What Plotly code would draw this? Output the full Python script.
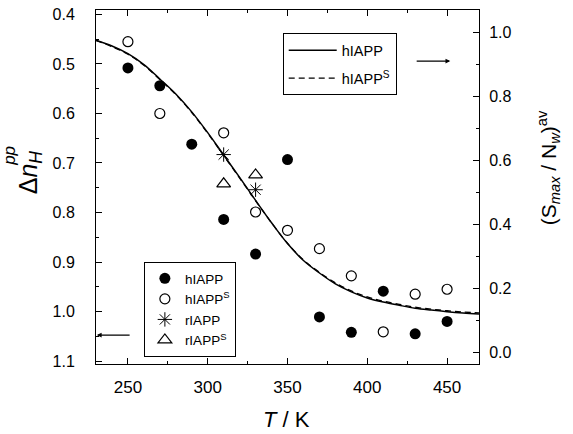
import plotly.graph_objects as go

# Temperatures (K) and measured values (left axis, reversed)
T_h = [250, 270, 290, 310, 330, 350, 370, 390, 410, 430, 450]
dn_h = [0.508, 0.544, 0.662, 0.814, 0.884, 0.693, 1.011, 1.042, 0.959, 1.045, 1.020]

T_hs = [250, 270, 310, 330, 350, 370, 390, 410, 430, 450]
dn_hs = [0.455, 0.600, 0.639, 0.799, 0.836, 0.873, 0.928, 1.041, 0.965, 0.955]

T_r = [310, 330]
dn_r = [0.683, 0.754]

T_rs = [310, 330]
dn_rs = [0.742, 0.724]

# Fitted curves (right axis)
T_fit = [230, 240, 250, 260, 270, 280, 290, 300, 310, 320, 330, 340, 350,
         360, 370, 380, 390, 400, 410, 420, 430, 440, 450, 460, 470]
s_fit = [0.976, 0.958, 0.934, 0.900, 0.855, 0.808, 0.752, 0.687, 0.617, 0.547,
         0.475, 0.405, 0.340, 0.287, 0.248, 0.214, 0.189, 0.170, 0.157, 0.147,
         0.138, 0.132, 0.127, 0.123, 0.120]
s_fit_s = [0.975, 0.956, 0.932, 0.898, 0.853, 0.806, 0.750, 0.685, 0.615, 0.545,
           0.474, 0.405, 0.341, 0.289, 0.250, 0.217, 0.192, 0.173, 0.160, 0.150,
           0.141, 0.135, 0.130, 0.126, 0.123]

FONT = "Liberation Sans, Arial, sans-serif"

fig = go.Figure()

fig.add_trace(go.Scatter(x=T_fit, y=s_fit, yaxis="y2", mode="lines",
                         line=dict(color="black", width=1.5, shape="spline"),
                         name="hIAPP", legend="legend2", legendgroup="fit1"))
fig.add_trace(go.Scatter(x=T_fit, y=s_fit_s, yaxis="y2", mode="lines",
                         line=dict(color="black", width=1.3, dash="6px,4px", shape="spline"),
                         name="hIAPP<sup>S</sup>", legend="legend2", legendgroup="fit2"))

fig.add_trace(go.Scatter(x=T_h, y=dn_h, mode="markers", name="hIAPP",
                         marker=dict(symbol="circle", size=11, color="black",
                                     line=dict(width=0))))
fig.add_trace(go.Scatter(x=T_hs, y=dn_hs, mode="markers", name="hIAPP<sup>S</sup>",
                         marker=dict(symbol="circle-open", size=10, color="black",
                                     line=dict(width=1.2))))
fig.add_trace(go.Scatter(x=T_r, y=dn_r, mode="markers", name="rIAPP",
                         marker=dict(symbol="asterisk-open", size=12, color="black",
                                     line=dict(width=1, color="black"))))
fig.add_trace(go.Scatter(x=T_rs, y=dn_rs, mode="markers", name="rIAPP<sup>S</sup>",
                         marker=dict(symbol="triangle-up-open", size=12, color="black",
                                     line=dict(width=1.2))))

axis_common = dict(showline=True, linecolor="black", linewidth=1, ticks="inside",
                   ticklen=6, tickcolor="black", tickwidth=1, showgrid=False,
                   zeroline=False, automargin=False)

fig.update_layout(
    width=573, height=434,
    margin=dict(l=96, r=94, t=10, b=70),
    plot_bgcolor="white", paper_bgcolor="white",
    font=dict(family=FONT, color="black"),
    showlegend=True,
    xaxis=dict(range=[230, 470], tickvals=[250, 300, 350, 400, 450], mirror="ticks",
               minor=dict(dtick=25, tick0=225, ticks="inside", ticklen=3, tickcolor="black"),
               tickfont=dict(family=FONT, size=17, color="black"),
               ticklabelstandoff=8,
               **axis_common),
    yaxis=dict(range=[1.106, 0.391], tickvals=[0.4, 0.5, 0.6, 0.7, 0.8, 0.9, 1.0, 1.1],
               tickformat=".1f",
               minor=dict(dtick=0.05, tick0=0.0, ticks="inside", ticklen=3, tickcolor="black"),
               tickfont=dict(family=FONT, size=16, color="black"),
               ticklabelstandoff=17,
               **axis_common),
    yaxis2=dict(range=[-0.0366, 1.0706], overlaying="y", side="right",
                tickvals=[0.0, 0.2, 0.4, 0.6, 0.8, 1.0], tickformat=".1f",
                minor=dict(dtick=0.1, tick0=0.0, ticks="inside", ticklen=3, tickcolor="black"),
                tickfont=dict(family=FONT, size=16, color="black"),
                ticklabelstandoff=6,
                **axis_common),
    legend=dict(x=0.125, y=0.288, xanchor="left", yanchor="top",
                bordercolor="black", borderwidth=1, bgcolor="white",
                font=dict(family=FONT, size=13.5), tracegroupgap=0),
    legend2=dict(x=0.4875, y=0.934, xanchor="left", yanchor="top",
                 bordercolor="black", borderwidth=1, bgcolor="white",
                 itemwidth=48, tracegroupgap=6,
                 font=dict(family=FONT, size=14.5)),
)

# Axis titles
fig.add_annotation(text="<i>T</i> / K", xref="paper", yref="paper",
                   x=0.498, y=-0.158, xanchor="center", yanchor="middle",
                   showarrow=False, font=dict(family=FONT, size=22))
fig.add_annotation(text="Δ<i>n</i><sub><i>H</i></sub>", xref="paper", yref="paper",
                   x=-0.172, y=0.542, xanchor="center", yanchor="middle", textangle=-90,
                   showarrow=False, font=dict(family=FONT, size=25))
fig.add_annotation(text="<i>pp</i>", xref="paper", yref="paper",
                   x=-0.2245, y=0.588, xanchor="center", yanchor="middle", textangle=-90,
                   showarrow=False, font=dict(family=FONT, size=17))
fig.add_annotation(text="(S<sub><i>max</i></sub> / N<sub><i>w</i></sub>)<sup>av</sup>",
                   xref="paper", yref="paper", x=1.182, y=0.555, xanchor="center",
                   yanchor="middle", textangle=-90, showarrow=False,
                   font=dict(family=FONT, size=21))

# Arrows indicating which axis each data set belongs to
fig.add_annotation(x=230.5, y=1.0475, ax=252, ay=1.0475, xref="x", yref="y",
                   axref="x", ayref="y", text="", showarrow=True, arrowhead=2,
                   arrowsize=0.8, arrowwidth=1.2, arrowcolor="black")
fig.add_annotation(x=452, y=0.911, ax=430, ay=0.911, xref="x", yref="y2",
                   axref="x", ayref="y2", text="", showarrow=True, arrowhead=2,
                   arrowsize=0.8, arrowwidth=1.2, arrowcolor="black")

fig.write_html("out.html")
